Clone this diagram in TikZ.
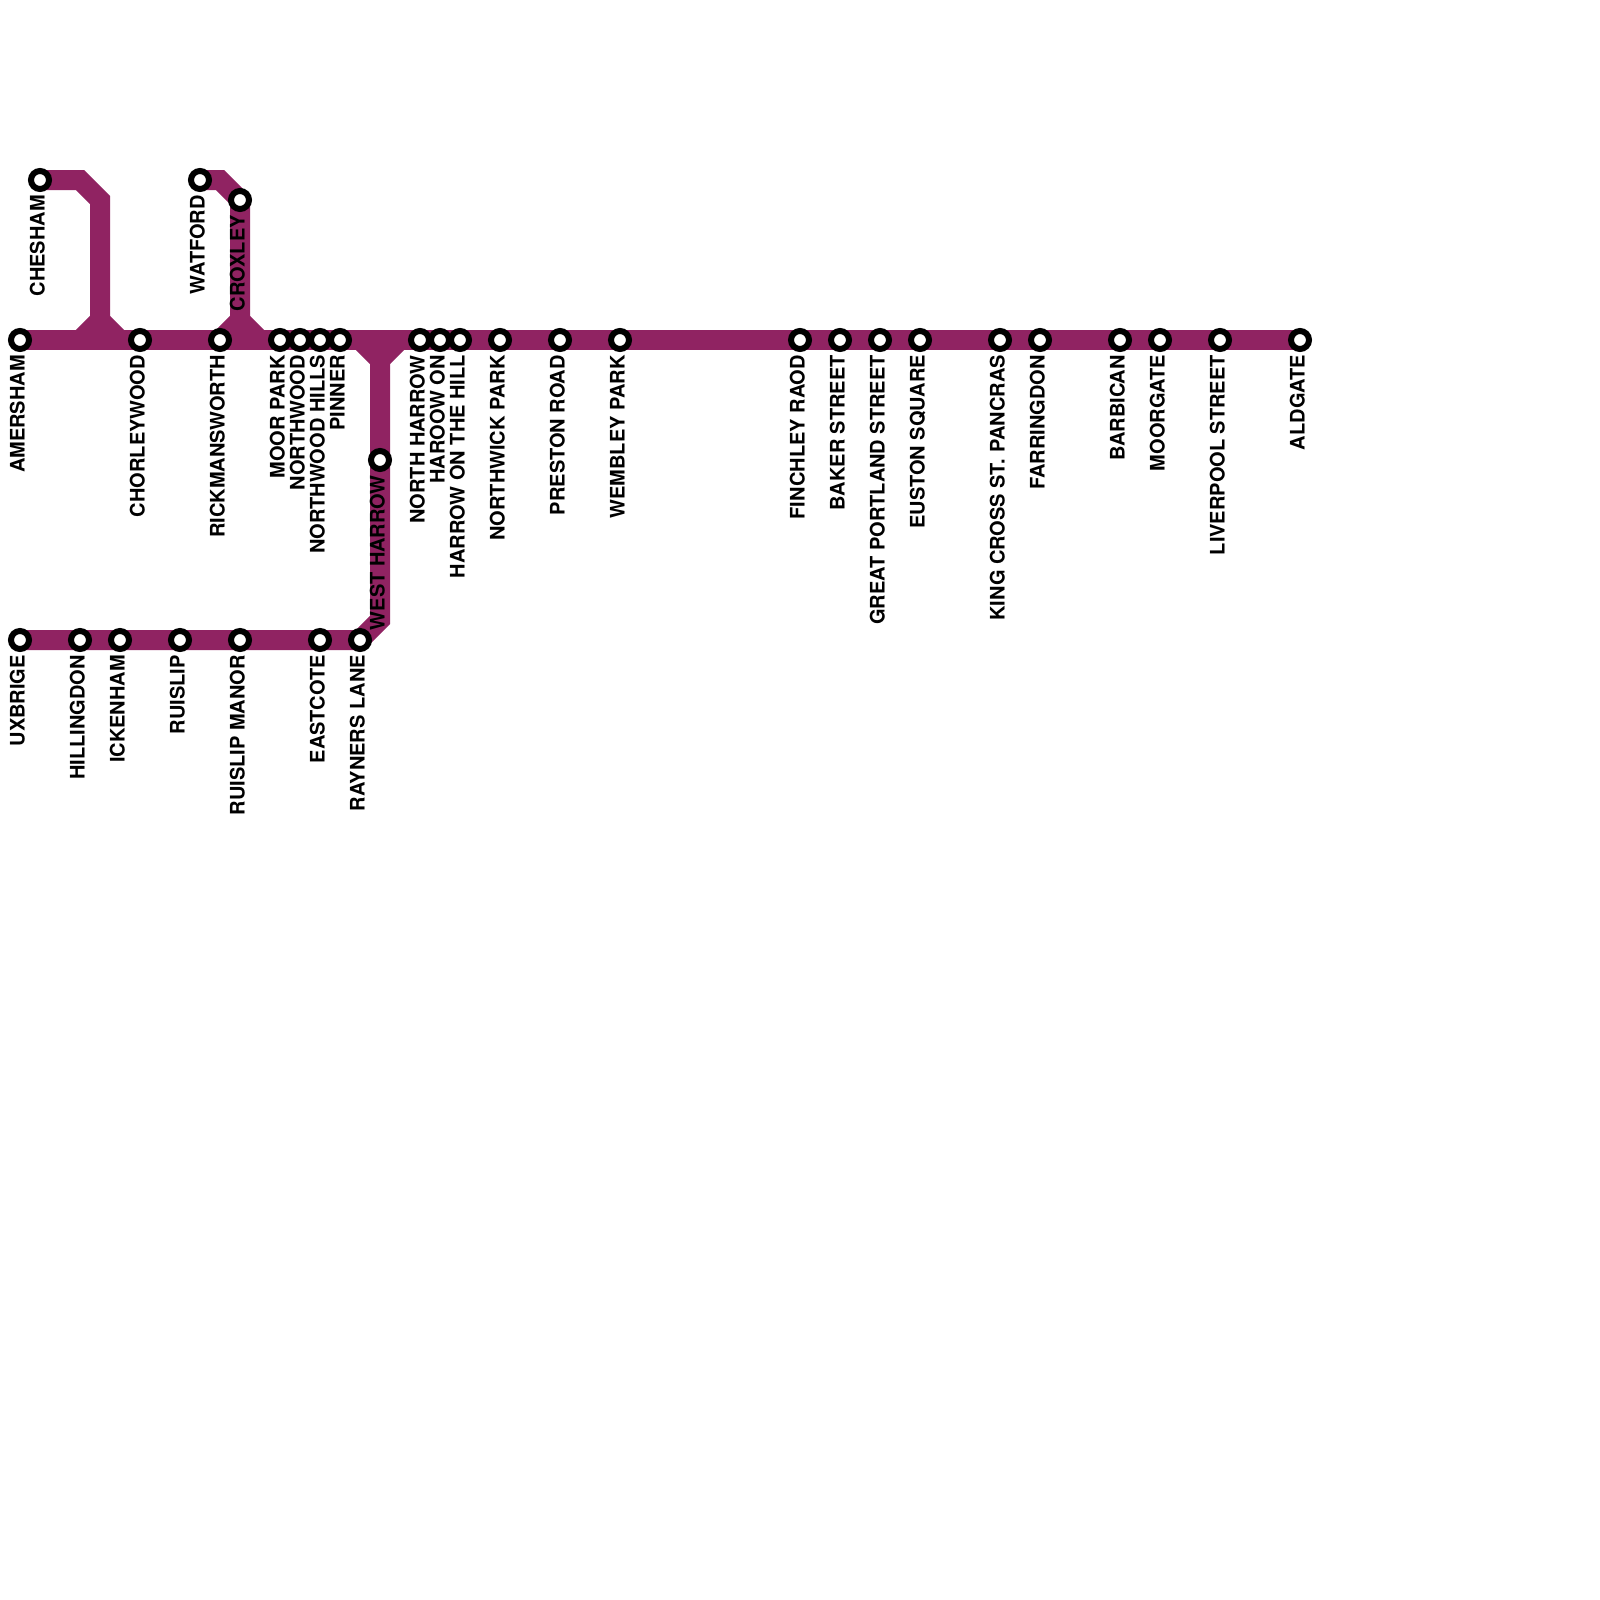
\documentclass[tikz,border=0pt]{standalone}
\usepackage{fontspec}
\setmainfont{TeX Gyre Heros}
\usepackage{xcolor}
\usepackage{tikz}
\usetikzlibrary{backgrounds}
\definecolor{metro}{HTML}{902362}

\begin{document}
\begin{tikzpicture}[
    x=1pt, y=-1pt,
    stn/.style    ={draw=black, fill=white, circle, line width=6pt, minimum size=18pt, inner sep=0pt},
    stnlbl/.style ={rotate=90, anchor=base east, inner sep=0pt, font=\fontsize{20}{24}\selectfont\bfseries},
    track/.style  ={draw=metro, line width=20pt, line join=miter},
]
\useasboundingbox (0,0) rectangle (1600,1600);

% Bends
\coordinate (cheshamA) at (80,180);
\coordinate (cheshamB) at (100,200);
\coordinate (cheshamC) at (100,320);
\coordinate (cheshamL) at (80,340);
\coordinate (cheshamR) at (120,340);
\coordinate (watfordA) at (220,180);
\coordinate (watfordC) at (240,320);
\coordinate (watfordL) at (220,340);
\coordinate (watfordR) at (260,340);
\coordinate (harrowL) at (360,340);
\coordinate (harrowC) at (380,360);
\coordinate (harrowR) at (400,340);
\coordinate (harrowB) at (380,620);

% Main line
\node[stn] (amersham) at (20,340) {};
\node[stn] (chorleywood) at (140,340) {};
\node[stn] (rickmansworth) at (220,340) {};
\node[stn] (moorpark) at (280,340) {};
\node[stn] (northwood) at (300,340) {};
\node[stn] (northwoodhills) at (320,340) {};
\node[stn] (pinner) at (340,340) {};
\node[stn] (northharrow) at (420,340) {};
\node[stn] (haroowon) at (440,340) {};
\node[stn] (harrowhill) at (460,340) {};
\node[stn] (northwick) at (500,340) {};
\node[stn] (preston) at (560,340) {};
\node[stn] (wembley) at (620,340) {};
\node[stn] (finchley) at (800,340) {};
\node[stn] (baker) at (840,340) {};
\node[stn] (portland) at (880,340) {};
\node[stn] (euston) at (920,340) {};
\node[stn] (kingscross) at (1000,340) {};
\node[stn] (farringdon) at (1040,340) {};
\node[stn] (barbican) at (1120,340) {};
\node[stn] (moorgate) at (1160,340) {};
\node[stn] (liverpool) at (1220,340) {};
\node[stn] (aldgate) at (1300,340) {};

% Branches
\node[stn] (chesham) at (40,180) {};
\node[stn] (watford) at (200,180) {};
\node[stn] (croxley) at (240,200) {};
\node[stn] (westharrow) at (380,460) {};

% Uxbridge line
\node[stn] (uxbrige) at (20,640) {};
\node[stn] (hillingdon) at (80,640) {};
\node[stn] (ickenham) at (120,640) {};
\node[stn] (ruislip) at (180,640) {};
\node[stn] (ruislipmanor) at (240,640) {};
\node[stn] (eastcote) at (320,640) {};
\node[stn] (rayners) at (360,640) {};

\begin{scope}[on background layer]
\draw[track] (amersham.center) -- (aldgate.center);
\draw[track] (chesham.center) -- (cheshamA) -- (cheshamB) -- (cheshamC) -- (cheshamL);
\draw[track] (cheshamC) -- (cheshamR);
\draw[track] (watford.center) -- (watfordA) -- (croxley.center) -- (watfordC) -- (watfordL);
\draw[track] (watfordC) -- (watfordR);
\draw[track] (uxbrige.center) -- (rayners.center) -- (harrowB) -- (harrowC);
\draw[track] (harrowL) -- (harrowC) -- (harrowR);
\end{scope}

% Labels
\node[stnlbl] (amershamlbl) at (24.5,355) {AMERSHAM};
\node[stnlbl] (chorleywoodlbl) at (144.5,355) {CHORLEYWOOD};
\node[stnlbl] (rickmansworthlbl) at (224.5,355) {RICKMANSWORTH};
\node[stnlbl] (moorparklbl) at (284.5,355) {MOOR PARK};
\node[stnlbl] (northwoodlbl) at (304.5,355) {NORTHWOOD};
\node[stnlbl] (northwoodhillslbl) at (324.5,355) {NORTHWOOD HILLS};
\node[stnlbl] (pinnerlbl) at (344.5,355) {PINNER};
\node[stnlbl] (northharrowlbl) at (424.5,355) {NORTH HARROW};
\node[stnlbl] (haroowonlbl) at (444.5,355) {HAROOW ON};
\node[stnlbl] (harrowhilllbl) at (464.5,355) {HARROW ON THE HILL};
\node[stnlbl] (northwicklbl) at (504.5,355) {NORTHWICK PARK};
\node[stnlbl] (prestonlbl) at (564.5,355) {PRESTON ROAD};
\node[stnlbl] (wembleylbl) at (624.5,355) {WEMBLEY PARK};
\node[stnlbl] (finchleylbl) at (804.5,355) {FINCHLEY RAOD};
\node[stnlbl] (bakerlbl) at (844.5,355) {BAKER STREET};
\node[stnlbl] (portlandlbl) at (884.5,355) {GREAT PORTLAND STREET};
\node[stnlbl] (eustonlbl) at (924.5,355) {EUSTON SQUARE};
\node[stnlbl] (kingscrosslbl) at (1004.5,355) {KING CROSS ST. PANCRAS};
\node[stnlbl] (farringdonlbl) at (1044.5,355) {FARRINGDON};
\node[stnlbl] (barbicanlbl) at (1124.5,355) {BARBICAN};
\node[stnlbl] (moorgatelbl) at (1164.5,355) {MOORGATE};
\node[stnlbl] (liverpoollbl) at (1224.5,355) {LIVERPOOL STREET};
\node[stnlbl] (aldgatelbl) at (1304.5,355) {ALDGATE};
\node[stnlbl] (cheshamlbl) at (44.5,195) {CHESHAM};
\node[stnlbl] (watfordlbl) at (204.5,195) {WATFORD};
\node[stnlbl] (croxleylbl) at (244.5,215) {CROXLEY};
\node[stnlbl] (westharrowlbl) at (384.5,475) {WEST HARROW};
\node[stnlbl] (uxbrigelbl) at (24.5,655) {UXBRIGE};
\node[stnlbl] (hillingdonlbl) at (84.5,655) {HILLINGDON};
\node[stnlbl] (ickenhamlbl) at (124.5,655) {ICKENHAM};
\node[stnlbl] (ruisliplbl) at (184.5,655) {RUISLIP};
\node[stnlbl] (ruislipmanorlbl) at (244.5,655) {RUISLIP MANOR};
\node[stnlbl] (eastcotelbl) at (324.5,655) {EASTCOTE};
\node[stnlbl] (raynerslbl) at (364.5,655) {RAYNERS LANE};

\end{tikzpicture}
\end{document}
